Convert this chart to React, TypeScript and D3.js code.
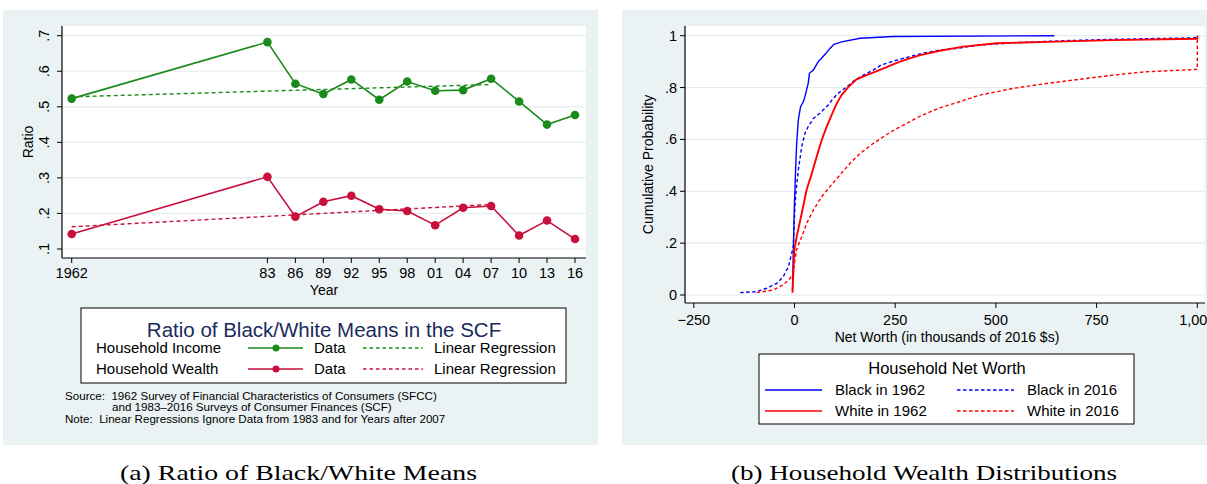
import React from "react";
import * as d3 from "d3";

// ---------- Panel (a) data ----------
const years = [1962, 1983, 1986, 1989, 1992, 1995, 1998, 2001, 2004, 2007, 2010, 2013, 2016];
const yearLabels = ["1962", "83", "86", "89", "92", "95", "98", "01", "04", "07", "10", "13", "16"];
const incomeRatio = [0.523, 0.682, 0.565, 0.536, 0.577, 0.52, 0.571, 0.545, 0.547, 0.579, 0.515, 0.45, 0.477];
const wealthRatio = [0.142, 0.303, 0.191, 0.233, 0.25, 0.212, 0.207, 0.167, 0.216, 0.221, 0.138, 0.18, 0.128];
const regYears = [1962, 2007];
const incomeReg = [0.528, 0.5626];
const wealthReg = [0.1625, 0.2253];
const leftYTicks = [0.1, 0.2, 0.3, 0.4, 0.5, 0.6, 0.7];
const leftYTickLabels = [".1", ".2", ".3", ".4", ".5", ".6", ".7"];

// ---------- Panel (b) data: [net worth (thousands), cumulative probability] ----------
const black1962: [number, number][] = [
  [-5, 0.02], [-3, 0.161], [-0.4, 0.341], [3, 0.495], [5.4, 0.585], [9.5, 0.675], [15, 0.726],
  [22, 0.745], [27, 0.771], [30, 0.791], [34, 0.816], [37, 0.855], [47, 0.868], [59, 0.9],
  [67, 0.913], [78, 0.932], [88, 0.951], [98, 0.967], [117, 0.976], [163, 0.99], [245, 0.997], [645, 1.0],
];
const black2016: [number, number][] = [
  [-135, 0.009], [-94, 0.013], [-69, 0.026], [-44, 0.045], [-28, 0.071], [-15, 0.109], [-7, 0.161],
  [-3, 0.186], [1, 0.341], [5, 0.418], [9.5, 0.482], [18, 0.572], [26, 0.624], [34, 0.649],
  [47, 0.681], [63, 0.701], [84, 0.733], [96, 0.758], [113, 0.784], [130, 0.803], [150, 0.829],
  [171, 0.848], [196, 0.868], [215, 0.887], [254, 0.906], [312, 0.93], [361, 0.945], [403, 0.951],
  [460, 0.964], [560, 0.974], [676, 0.981], [791, 0.986], [1000, 0.992],
];
const white1962: [number, number][] = [
  [-5, 0.009], [-3, 0.084], [-0.4, 0.174], [5.4, 0.225], [18, 0.315], [30, 0.405], [43, 0.469],
  [55, 0.533], [67.5, 0.598], [80, 0.649], [92, 0.694], [105, 0.739], [117, 0.771], [134, 0.803],
  [154, 0.832], [179, 0.848], [212, 0.868], [254, 0.895], [280, 0.91], [312, 0.925], [361, 0.942],
  [419, 0.958], [502, 0.971], [626, 0.976], [791, 0.983], [1000, 0.988], [1000, 1.0],
];
const white2016: [number, number][] = [
  [-94, 0.009], [-53, 0.019], [-28, 0.039], [-11, 0.064], [-3, 0.084], [1, 0.135], [5, 0.174],
  [18, 0.225], [30, 0.276], [47, 0.328], [67.5, 0.379], [88, 0.418], [113, 0.463], [138, 0.508],
  [163, 0.546], [196, 0.585], [238, 0.628], [262, 0.649], [279, 0.662], [312, 0.69], [361, 0.722],
  [403, 0.742], [460, 0.771], [543, 0.797], [626, 0.816], [709, 0.832], [791, 0.848], [874, 0.861],
  [1000, 0.87], [1000, 0.987],
];
const rightXTicks = [-250, 0, 250, 500, 750, 1000];
const rightXTickLabels = ["\u2212250", "0", "250", "500", "750", "1,000"];
const rightYTicks = [0, 0.2, 0.4, 0.6, 0.8, 1];
const rightYTickLabels = ["0", ".2", ".4", ".6", ".8", "1"];

const GREEN = "#1a8a1a";
const CRIMSON = "#c8103c";
const BLUE = "#0000ff";
const RED = "#ff0000";
const BG = "#eaf2f3";
const GRID = "#e3ecee";
const SANS = "'Liberation Sans', Arial, sans-serif";
const SERIF = "'Liberation Serif', 'Times New Roman', serif";

export default function App() {
  // Panel (a) scales
  const L = { left: 62, right: 586, top: 26, bottom: 258 };
  const xL = d3.scaleLinear().domain([1962, 2016]).range([71.7, 575]);
  const yL = d3.scaleLinear().domain([0.1, 0.7]).range([249, 35.7]);
  const lineL = d3.line<[number, number]>().x((d) => xL(d[0])).y((d) => yL(d[1]));
  const incomePts = years.map((y, i) => [y, incomeRatio[i]] as [number, number]);
  const wealthPts = years.map((y, i) => [y, wealthRatio[i]] as [number, number]);
  const incRegPts = regYears.map((y, i) => [y, incomeReg[i]] as [number, number]);
  const wltRegPts = regYears.map((y, i) => [y, wealthReg[i]] as [number, number]);

  // Panel (b) scales
  const R = { left: 685, right: 1205, top: 26, bottom: 303 };
  const xR = d3.scaleLinear().domain([0, 1000]).range([794.5, 1197.3]);
  const yR = d3.scaleLinear().domain([0, 1]).range([295, 35.7]);
  const lineR = d3.line<[number, number]>().x((d) => xR(d[0])).y((d) => yR(d[1]));

  const dash = "4 3";

  return (
    <div style={{ position: "absolute", left: 0, top: 0 }}>
      <svg width={1207} height={484} style={{ display: "block" }} fontFamily={SANS}>
        <rect x={0} y={0} width={1207} height={484} fill="#ffffff" />
        {/* ================= Panel (a) ================= */}
        <rect x={3} y={10} width={595} height={435} fill={BG} />
        <rect x={L.left} y={L.top} width={L.right - L.left} height={L.bottom - L.top} fill="#ffffff" />
        {leftYTicks.map((t) => (
          <line key={"lg" + t} x1={L.left} x2={L.right} y1={yL(t)} y2={yL(t)} stroke={GRID} strokeWidth={1.2} />
        ))}
        {/* axes */}
        <line x1={L.left} x2={L.left} y1={L.top} y2={L.bottom} stroke="#000" strokeWidth={1.2} />
        <line x1={L.left} x2={L.right} y1={L.bottom} y2={L.bottom} stroke="#000" strokeWidth={1.2} />
        {leftYTicks.map((t, i) => (
          <g key={"ly" + t}>
            <line x1={L.left - 5} x2={L.left} y1={yL(t)} y2={yL(t)} stroke="#000" strokeWidth={1} />
            <text transform={`translate(49,${yL(t)}) rotate(-90)`} textAnchor="middle" fontSize={14.5} fill="#000">
              {leftYTickLabels[i]}
            </text>
          </g>
        ))}
        {years.map((y, i) => (
          <g key={"lx" + y}>
            <line x1={xL(y)} x2={xL(y)} y1={L.bottom} y2={L.bottom + 5} stroke="#000" strokeWidth={1} />
            <text x={xL(y)} y={278} textAnchor="middle" fontSize={14.5} fill="#000">
              {yearLabels[i]}
            </text>
          </g>
        ))}
        <text x={(L.left + L.right) / 2} y={295} textAnchor="middle" fontSize={14} fill="#000">Year</text>
        <text transform={`translate(33,${(L.top + L.bottom) / 2}) rotate(-90)`} textAnchor="middle" fontSize={14} fill="#000">
          Ratio
        </text>
        {/* series */}
        <path d={lineL(incRegPts) || ""} fill="none" stroke={GREEN} strokeWidth={1.4} strokeDasharray={dash} />
        <path d={lineL(wltRegPts) || ""} fill="none" stroke={CRIMSON} strokeWidth={1.4} strokeDasharray={dash} />
        <path d={lineL(incomePts) || ""} fill="none" stroke={GREEN} strokeWidth={1.6} />
        <path d={lineL(wealthPts) || ""} fill="none" stroke={CRIMSON} strokeWidth={1.6} />
        {incomePts.map((d) => (
          <circle key={"ic" + d[0]} cx={xL(d[0])} cy={yL(d[1])} r={4.3} fill={GREEN} />
        ))}
        {wealthPts.map((d) => (
          <circle key={"wc" + d[0]} cx={xL(d[0])} cy={yL(d[1])} r={4.3} fill={CRIMSON} />
        ))}
        {/* legend */}
        <rect x={81} y={308} width={485} height={75} fill="#fff" stroke="#000" strokeWidth={1} />
        <text x={324} y={337} textAnchor="middle" fontSize={20.5} fill="#1a2a5c">
          Ratio of Black/White Means in the SCF
        </text>
        {[
          { label: "Household Income", color: GREEN, y: 348 },
          { label: "Household Wealth", color: CRIMSON, y: 369 },
        ].map((r) => (
          <g key={r.label}>
            <text x={96} y={r.y + 5} fontSize={15} fill="#000">{r.label}</text>
            <line x1={248} x2={303} y1={r.y} y2={r.y} stroke={r.color} strokeWidth={1.6} />
            <circle cx={276} cy={r.y} r={3.5} fill={r.color} />
            <text x={314} y={r.y + 5} fontSize={15} fill="#000">Data</text>
            <line x1={363} x2={423} y1={r.y} y2={r.y} stroke={r.color} strokeWidth={1.3} strokeDasharray="3.5 3" />
            <text x={434} y={r.y + 5} fontSize={15} fill="#000">Linear Regression</text>
          </g>
        ))}
        <text x={65} y={400} fontSize={11.6} fill="#000" xmlSpace="preserve">
          {"Source:  1962 Survey of Financial Characteristics of Consumers (SFCC)"}
        </text>
        <text x={112} y={411} fontSize={11.6} fill="#000">and 1983–2016 Surveys of Consumer Finances (SCF)</text>
        <text x={65} y={423} fontSize={11.6} fill="#000" xmlSpace="preserve">
          {"Note:  Linear Regressions Ignore Data from 1983 and for Years after 2007"}
        </text>
        <text
          x={120}
          y={480}
          fontSize={21.5}
          fontFamily={SERIF}
          fill="#000"
          textLength={357}
          lengthAdjust="spacingAndGlyphs"
        >
          (a) Ratio of Black/White Means
        </text>

        {/* ================= Panel (b) ================= */}
        <rect x={622} y={10} width={585} height={435} fill={BG} />
        <rect x={R.left} y={R.top} width={R.right - R.left} height={R.bottom - R.top} fill="#ffffff" />
        {rightYTicks.map((t) => (
          <line key={"rg" + t} x1={R.left} x2={R.right} y1={yR(t)} y2={yR(t)} stroke={GRID} strokeWidth={1.2} />
        ))}
        <line x1={R.left} x2={R.left} y1={R.top} y2={R.bottom} stroke="#000" strokeWidth={1.2} />
        <line x1={R.left} x2={R.right} y1={R.bottom} y2={R.bottom} stroke="#000" strokeWidth={1.2} />
        {rightYTicks.map((t, i) => (
          <g key={"ry" + t}>
            <line x1={R.left - 5} x2={R.left} y1={yR(t)} y2={yR(t)} stroke="#000" strokeWidth={1} />
            <text x={677} y={yR(t) + 5} textAnchor="end" fontSize={14.5} fill="#000">
              {rightYTickLabels[i]}
            </text>
          </g>
        ))}
        {rightXTicks.map((t, i) => (
          <g key={"rx" + t}>
            <line x1={xR(t)} x2={xR(t)} y1={R.bottom} y2={R.bottom + 5} stroke="#000" strokeWidth={1} />
            <text x={xR(t)} y={325} textAnchor="middle" fontSize={14.5} fill="#000">
              {rightXTickLabels[i]}
            </text>
          </g>
        ))}
        <text x={947} y={342} textAnchor="middle" fontSize={14} fill="#000">
          Net Worth (in thousands of 2016 $s)
        </text>
        <text transform={`translate(653,${(R.top + R.bottom) / 2}) rotate(-90)`} textAnchor="middle" fontSize={14} fill="#000">
          Cumulative Probability
        </text>
        <path d={lineR(black1962) || ""} fill="none" stroke={BLUE} strokeWidth={1.4} />
        <path d={lineR(black2016) || ""} fill="none" stroke={BLUE} strokeWidth={1.4} strokeDasharray="3.5 2.5" />
        <path d={lineR(white1962) || ""} fill="none" stroke={RED} strokeWidth={1.9} />
        <path d={lineR(white2016) || ""} fill="none" stroke={RED} strokeWidth={1.4} strokeDasharray="3.5 2.5" />
        {/* legend */}
        <rect x={759} y={354} width={375} height={70} fill="#fff" stroke="#000" strokeWidth={1} />
        <text x={947} y={374} textAnchor="middle" fontSize={16.5} fill="#000">Household Net Worth</text>
        {[
          { label: "Black in 1962", color: BLUE, x: 765, y: 390, dashed: false },
          { label: "Black in 2016", color: BLUE, x: 957, y: 390, dashed: true },
          { label: "White in 1962", color: RED, x: 765, y: 411, dashed: false },
          { label: "White in 2016", color: RED, x: 957, y: 411, dashed: true },
        ].map((r) => (
          <g key={r.label}>
            <line
              x1={r.x}
              x2={r.x + 57}
              y1={r.y}
              y2={r.y}
              stroke={r.color}
              strokeWidth={1.4}
              strokeDasharray={r.dashed ? "3.5 2.5" : undefined}
            />
            <text x={r.x + 70} y={r.y + 5} fontSize={15} fill="#000">{r.label}</text>
          </g>
        ))}
        <text
          x={731}
          y={480}
          fontSize={21.5}
          fontFamily={SERIF}
          fill="#000"
          textLength={386}
          lengthAdjust="spacingAndGlyphs"
        >
          (b) Household Wealth Distributions
        </text>
      </svg>
    </div>
  );
}
